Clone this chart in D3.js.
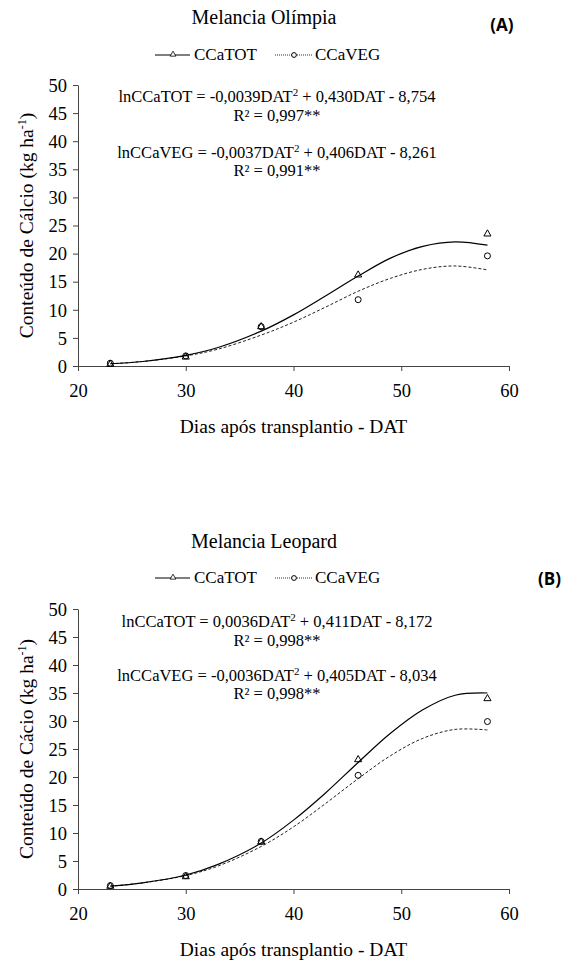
<!DOCTYPE html>
<html>
<head>
<meta charset="utf-8">
<script src="https://cdn.jsdelivr.net/npm/d3@7"></script>
<style>
    body { margin: 0; background: #fff; }
    svg text { font-family: "Liberation Serif", "Times New Roman", serif; fill: #000; }
</style>
</head>
<body>
<svg id="chart" width="562" height="962"></svg>
<script>

// observed values (DAT = dias após transplantio)
const dat = [23, 30, 37, 46, 58];
const olimpiaTot = [0.3, 1.6, 7.0, 16.2, 23.5];
const olimpiaVeg = [0.5, 1.8, 7.0, 11.8, 19.6];
const leopardTot = [0.5, 2.2, 8.4, 23.1, 34.0];
const leopardVeg = [0.6, 2.4, 8.5, 20.3, 29.9];

// fitted curves
const fitDat = [23, 26, 30, 33, 37, 40, 43, 46, 49, 52, 55, 58];
const olimpiaTotFit = [0.4, 0.8, 1.9, 3.3, 6.2, 9.1, 12.5, 16.0, 19.2, 21.3, 22.1, 21.5];
const olimpiaVegFit = [0.4, 0.8, 1.8, 3.0, 5.5, 7.8, 10.5, 13.3, 15.6, 17.2, 17.8, 17.1];
const leopardTotFit = [0.5, 1.1, 2.5, 4.4, 8.2, 12.3, 17.2, 22.6, 27.8, 32.0, 34.6, 35.0];
const leopardVegFit = [0.5, 1.1, 2.4, 4.1, 7.6, 11.1, 15.3, 19.7, 23.8, 26.9, 28.5, 28.4];

const xTicks = [20, 30, 40, 50, 60];
const yTicks = [0, 5, 10, 15, 20, 25, 30, 35, 40, 45, 50];
const seriesNames = ["CCaTOT", "CCaVEG"];

const panels = [
    {
        top: 85, bottom: 366,
        title: "Melancia Olímpia", letter: "(A)", letterX: 502, letterAnchor: "middle",
        yLabel: "Conteúdo de Cálcio (kg ha",
        tot: olimpiaTot, veg: olimpiaVeg, totFit: olimpiaTotFit, vegFit: olimpiaVegFit,
        eqs: [
            ["lnCCaTOT = -0,0039DAT", "2", " + 0,430DAT - 8,754"],
            ["R² = 0,997**"],
            ["lnCCaVEG = -0,0037DAT", "2", " + 0,406DAT - 8,261"],
            ["R² = 0,991**"]
        ],
        titleY: 24, legendY: 60, letterY: 31, eqY: [102, 121, 158, 176]
    },
    {
        top: 609, bottom: 889,
        title: "Melancia Leopard", letter: "(B)", letterX: 561, letterAnchor: "end",
        yLabel: "Conteúdo de Cácio (kg ha",
        tot: leopardTot, veg: leopardVeg, totFit: leopardTotFit, vegFit: leopardVegFit,
        eqs: [
            ["lnCCaTOT = 0,0036DAT", "2", " + 0,411DAT - 8,172"],
            ["R² = 0,998**"],
            ["lnCCaVEG = -0,0036DAT", "2", " + 0,405DAT - 8,034"],
            ["R² = 0,998**"]
        ],
        titleY: 548, legendY: 583, letterY: 585, eqY: [627, 646, 681, 699]
    }
];

const svg = d3.select("#chart");
const x = d3.scaleLinear().domain([20, 60]).range([78, 509]);
const axisColor = "#444";

function drawPanel(p) {

    const y = d3.scaleLinear().domain([0, 50]).range([p.bottom, p.top]);
    const g = svg.append("g");

    // axes
    const xAxis = g.append("g")
        .attr("transform", `translate(0, ${p.bottom})`)
        .call(d3.axisBottom(x).tickValues(xTicks).tickSize(5).tickSizeOuter(0).tickPadding(9));
    const yAxis = g.append("g")
        .attr("transform", `translate(${x(20)}, 0)`)
        .call(d3.axisLeft(y).tickValues(yTicks).tickSize(5).tickSizeOuter(0).tickPadding(6));

    [xAxis, yAxis].forEach(a => {
        a.select(".domain").attr("stroke", axisColor);
        a.selectAll(".tick line").attr("stroke", axisColor);
        a.selectAll(".tick text")
            .style("font-family", "'Liberation Serif', serif")
            .style("font-size", "18.5px")
            .attr("fill", "#000");
    });
    xAxis.selectAll(".tick text").attr("dy", "0.9em");
    yAxis.selectAll(".tick text").attr("dy", "0.34em");

    // axis titles
    g.append("text")
        .attr("x", (x(20) + x(60)) / 2)
        .attr("y", p.bottom + 67)
        .attr("text-anchor", "middle")
        .attr("font-size", 19.5)
        .text("Dias após transplantio - DAT");

    const yl = g.append("text")
        .attr("transform", `translate(33, ${(p.top + p.bottom) / 2}) rotate(-90)`)
        .attr("text-anchor", "middle")
        .attr("font-size", 19.5);
    yl.append("tspan").text(p.yLabel);
    yl.append("tspan").attr("font-size", 12).attr("dy", -7).text("-1");
    yl.append("tspan").attr("dy", 7).text(")");

    // titles
    g.append("text")
        .attr("x", 264).attr("y", p.titleY)
        .attr("text-anchor", "middle")
        .attr("font-size", 20)
        .text(p.title);

    g.append("text")
        .attr("x", p.letterX).attr("y", p.letterY)
        .attr("text-anchor", p.letterAnchor)
        .attr("font-size", 17)
        .attr("font-weight", "bold")
        .style("font-family", "'Open Sans', 'Liberation Sans', sans-serif")
        .text(p.letter);

    // legend
    const lg = g.append("g");
    lg.append("line").attr("x1", 155).attr("x2", 190)
        .attr("y1", p.legendY - 5).attr("y2", p.legendY - 5)
        .attr("stroke", "#000").attr("stroke-width", 1.2);
    lg.append("path")
        .attr("d", d3.symbol(d3.symbolTriangle, 14)())
        .attr("transform", `translate(173, ${p.legendY - 5.5})`)
        .attr("fill", "#fff").attr("stroke", "#000").attr("stroke-width", 0.8);
    lg.append("text").attr("x", 194).attr("y", p.legendY)
        .attr("font-size", 17).text(seriesNames[0]);

    lg.append("line").attr("x1", 275).attr("x2", 312)
        .attr("y1", p.legendY - 5).attr("y2", p.legendY - 5)
        .attr("stroke", "#333").attr("stroke-width", 1).attr("stroke-dasharray", "1,1");
    lg.append("circle").attr("cx", 294).attr("cy", p.legendY - 5).attr("r", 2.4)
        .attr("fill", "#fff").attr("stroke", "#000").attr("stroke-width", 1);
    lg.append("text").attr("x", 315).attr("y", p.legendY)
        .attr("font-size", 17).text(seriesNames[1]);

    // equations
    p.eqs.forEach((parts, i) => {
        const t = g.append("text")
            .attr("x", 277).attr("y", p.eqY[i])
            .attr("text-anchor", "middle")
            .attr("font-size", 16.5);
        t.append("tspan").text(parts[0]);
        if (parts.length > 1) {
            t.append("tspan").attr("font-size", 11).attr("dy", -6).text(parts[1]);
            t.append("tspan").attr("dy", 6).text(parts[2]);
        }
    });

    // fitted curves
    const line = d3.line()
        .x(d => x(d[0]))
        .y(d => y(d[1]))
        .curve(d3.curveCatmullRom);

    g.append("path")
        .datum(d3.zip(fitDat, p.vegFit))
        .attr("d", line)
        .attr("fill", "none")
        .attr("stroke", "#222")
        .attr("stroke-width", 1)
        .attr("stroke-dasharray", "3,2");

    g.append("path")
        .datum(d3.zip(fitDat, p.totFit))
        .attr("d", line)
        .attr("fill", "none")
        .attr("stroke", "#000")
        .attr("stroke-width", 1.2);

    // observed points
    g.selectAll(".veg")
        .data(d3.zip(dat, p.veg))
        .enter()
        .append("circle")
        .attr("cx", d => x(d[0]))
        .attr("cy", d => y(d[1]))
        .attr("r", 3)
        .attr("fill", "none")
        .attr("stroke", "#000")
        .attr("stroke-width", 1);

    g.selectAll(".tot")
        .data(d3.zip(dat, p.tot))
        .enter()
        .append("path")
        .attr("d", d3.symbol(d3.symbolTriangle, 22)())
        .attr("transform", d => `translate(${x(d[0])}, ${y(d[1])})`)
        .attr("fill", "none")
        .attr("stroke", "#000")
        .attr("stroke-width", 1);
}

panels.forEach(drawPanel);

</script>
</body>
</html>
